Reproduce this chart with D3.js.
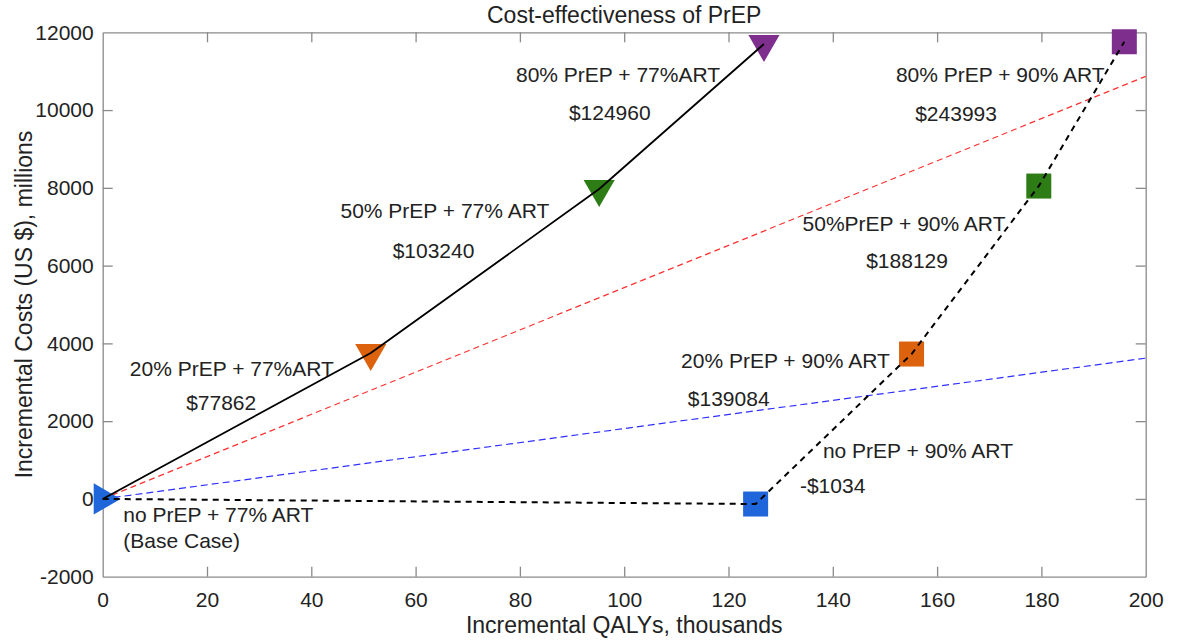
<!DOCTYPE html>
<html>
<head>
<meta charset="utf-8">
<script src="https://cdn.jsdelivr.net/npm/d3@7"></script>
<style>
  html, body { margin: 0; padding: 0; background: #fff; }
  svg { display: block; font-family: "Liberation Sans", Arial, Helvetica, sans-serif; }
</style>
</head>
<body>
<svg id="chart" width="1184" height="642"></svg>
<script>
// Scenario names, 77% ART coverage arm (incremental QALYs in thousands, costs in US$ millions)
const art77Names = ["no PrEP + 77% ART", "20% PrEP + 77%ART", "50% PrEP + 77% ART", "80% PrEP + 77%ART"];
const art77Qaly  = [0, 51.4, 95.2, 126.8];
const art77Cost  = [0, 3752, 7969, 11700];
const art77Icer  = ["(Base Case)", "$77862", "$103240", "$124960"];

// 90% ART coverage arm (first point is the shared base case)
const art90Names = ["no PrEP + 90% ART", "20% PrEP + 90% ART", "50%PrEP + 90% ART", "80% PrEP + 90% ART"];
const art90Qaly  = [0, 125.2, 155.1, 179.5, 195.9];
const art90Cost  = [0, -131, 3726, 8046, 11757];
const art90Icer  = ["-$1034", "$139084", "$188129", "$243993"];

// Willingness-to-pay reference lines
const thresholdQaly = [0, 200];
const thresholdHigh = [0, 10867];
const thresholdLow  = [0, 3620];

// Marker fill per coverage level (none, 20%, 50%, 80%)
const levelColors = ["#1f66da", "#dc620e", "#2e7c16", "#7e2f8e"];

// Axis ticks
const xTicks = [0, 20, 40, 60, 80, 100, 120, 140, 160, 180, 200];
const yTicks = [-2000, 0, 2000, 4000, 6000, 8000, 10000, 12000];

// Annotation anchors (left edge / baseline, in data units)
const art77NameAt = [[3.95, -586], [5.2, 3160], [45.6, 7223], [79.25, 10715]];
const art77IcerAt = [[3.95, -1263], [16.0, 2286], [55.6, 6195], [89.4, 9743]];
const art90NameAt = [[138.1, 1052], [110.9, 3366], [134.2, 6889], [152.1, 10715]];
const art90IcerAt = [[133.7, 159], [112.2, 2389], [146.4, 5937], [155.8, 9715]];

const svg = d3.select("#chart");
const L = 102.7, R = 1145.7, T = 32.3, B = 576.7;

const x = d3.scaleLinear().domain([0, 200]).range([L, R]);
const y = d3.scaleLinear().domain([-2000, 12000]).range([B, T]);

const axisColor = "#8a8a8a";
const textColor = "#222";

// Axes (ticks point inward, box on all sides)
const gx = svg.append("g").attr("transform", `translate(0,${B})`)
  .call(d3.axisBottom(x).tickValues(xTicks).tickFormat(d => String(d))
    .tickSizeInner(-10).tickSizeOuter(0).tickPadding(15));
const gy = svg.append("g").attr("transform", `translate(${L},0)`)
  .call(d3.axisLeft(y).tickValues(yTicks).tickFormat(d => String(d))
    .tickSizeInner(-10).tickSizeOuter(0).tickPadding(9));
const gxt = svg.append("g").attr("transform", `translate(0,${T})`)
  .call(d3.axisTop(x).tickValues(xTicks).tickSizeInner(-10).tickSizeOuter(0).tickFormat(""));
const gyr = svg.append("g").attr("transform", `translate(${R},0)`)
  .call(d3.axisRight(y).tickValues(yTicks).tickSizeInner(-10).tickSizeOuter(0).tickFormat(""));

[gx, gy, gxt, gyr].forEach(g => {
  g.select(".domain").attr("stroke", axisColor).attr("stroke-width", 1.3);
  g.selectAll(".tick line").attr("stroke", axisColor).attr("stroke-width", 1.3);
  g.selectAll(".tick text").attr("fill", textColor).style("font-size", "21px");
});
// drop the tick marks sitting on the box corners
gx.selectAll(".tick").filter(d => d === 0 || d === 200).select("line").remove();
gxt.selectAll(".tick").filter(d => d === 0 || d === 200).select("line").remove();
gy.selectAll(".tick").filter(d => d === -2000 || d === 12000).select("line").remove();
gyr.selectAll(".tick").filter(d => d === -2000 || d === 12000).select("line").remove();

// Title and axis labels
svg.append("text").attr("x", (L + R) / 2).attr("y", 23).attr("text-anchor", "middle")
  .attr("fill", textColor).style("font-size", "23px").text("Cost-effectiveness of PrEP");
svg.append("text").attr("x", (L + R) / 2).attr("y", 633).attr("text-anchor", "middle")
  .attr("fill", textColor).style("font-size", "23px").text("Incremental QALYs, thousands");
svg.append("text").attr("transform", `translate(32,${(T + B) / 2}) rotate(-90)`).attr("text-anchor", "middle")
  .attr("fill", textColor).style("font-size", "23px").text("Incremental Costs (US $), millions");

const plot = svg.append("g");

// Threshold lines
const thLine = d3.line().x(d => x(d[0])).y(d => y(d[1]));
plot.append("path").datum(d3.zip(thresholdQaly, thresholdHigh)).attr("d", thLine)
  .attr("fill", "none").attr("stroke", "#ff3030").attr("stroke-width", 1.2).attr("stroke-dasharray", "6,4");
plot.append("path").datum(d3.zip(thresholdQaly, thresholdLow)).attr("d", thLine)
  .attr("fill", "none").attr("stroke", "#2f2fff").attr("stroke-width", 1.2).attr("stroke-dasharray", "7,4");

// 77% ART markers: triangles (base case points right, others point down)
const tri = d3.symbol().type(d3.symbolTriangle).size(420);
plot.selectAll(".tri").data(d3.range(art77Qaly.length)).join("path")
  .attr("class", "tri")
  .attr("d", tri)
  .attr("transform", i => `translate(${x(art77Qaly[i])},${y(art77Cost[i])}) rotate(${i === 0 ? 90 : 180})`)
  .attr("fill", i => levelColors[i]);

// 90% ART markers: squares (skip the shared base case)
const sq = 25;
plot.selectAll(".sq").data(d3.range(1, art90Qaly.length)).join("rect")
  .attr("class", "sq")
  .attr("x", i => x(art90Qaly[i]) - sq / 2)
  .attr("y", i => y(art90Cost[i]) - sq / 2)
  .attr("width", sq).attr("height", sq)
  .attr("fill", i => levelColors[i - 1]);

// Expansion paths, drawn over the markers
const path = d3.line().x(d => x(d[0])).y(d => y(d[1])).curve(d3.curveLinear);
plot.append("path").datum(d3.zip(art90Qaly, art90Cost)).attr("d", path)
  .attr("fill", "none").attr("stroke", "#000").attr("stroke-width", 2)
  .attr("stroke-linejoin", "round").attr("stroke-dasharray", "6,5");
plot.append("path").datum(d3.zip(art77Qaly, art77Cost)).attr("d", path)
  .attr("fill", "none").attr("stroke", "#000").attr("stroke-width", 1.8)
  .attr("stroke-linejoin", "round");

// Scenario annotations
function annotate(texts, anchors) {
  plot.selectAll(null).data(texts).join("text")
    .attr("x", (d, i) => x(anchors[i][0]))
    .attr("y", (d, i) => y(anchors[i][1]))
    .attr("fill", textColor).style("font-size", "21px")
    .text(d => d);
}
annotate(art77Names, art77NameAt);
annotate(art77Icer, art77IcerAt);
annotate(art90Names, art90NameAt);
annotate(art90Icer, art90IcerAt);
</script>
</body>
</html>
